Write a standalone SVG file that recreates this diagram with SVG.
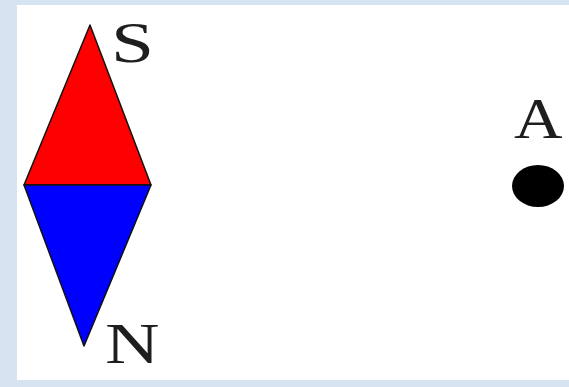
<svg xmlns="http://www.w3.org/2000/svg" width="569" height="387" viewBox="0 0 569 387">
<style>
.lbl{font-family:"Liberation Serif","Times New Roman",serif;font-size:56px;fill:#1e1e1e}
.tri{stroke:#111111;stroke-width:1.5;stroke-linejoin:round}
</style>
<rect x="0" y="0" width="569" height="387" fill="#d6e4f2"/>
<rect x="17" y="5" width="552" height="375" fill="#ffffff"/>
<g id="needle">
<polygon class="tri" points="90,25 24,185 151,185" fill="#ff0000"/>
<polygon class="tri" points="24,185 151,185 84,346" fill="#0000ff"/>
</g>
<g id="label-S"><text class="lbl" transform="translate(111,62) scale(1.38,1)">S</text></g>
<g id="label-N"><text class="lbl" transform="translate(105,363) scale(1.35,1)">N</text></g>
<g id="point-A">
<text class="lbl" transform="translate(514,138) scale(1.2,1)">A</text>
<ellipse cx="538" cy="186" rx="26" ry="21" fill="#000000"/>
</g>
</svg>
